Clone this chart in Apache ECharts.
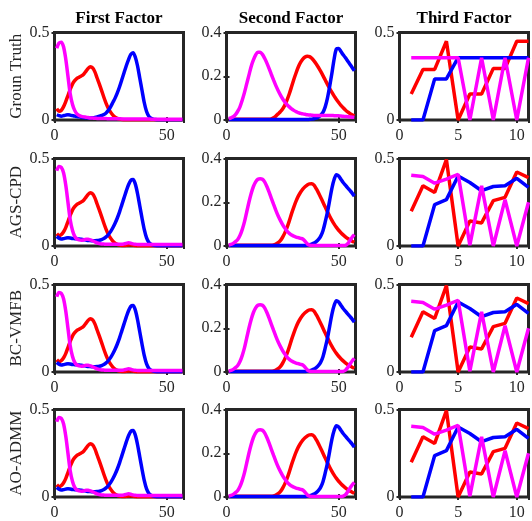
<!DOCTYPE html>
<html><head><meta charset="utf-8">
<script src="https://cdn.jsdelivr.net/npm/echarts@6/dist/echarts.min.js"></script>
<style>html,body{margin:0;padding:0;background:#fff}#c{width:532px;height:521px}</style>
</head><body><div id="c"></div>
<script>
// ---- labels ----
const colTitles = ['First Factor', 'Second Factor', 'Third Factor'];
const rowTitles = ['Groun Truth', 'AGS-CPD', 'BC-VMFB', 'AO-ADMM'];
const yMaxes = [0.5, 0.4, 0.5];
const yIntervals = [0.5, 0.2, 0.5];
const xMaxes = [57.5, 57.5, 11];
const xIntervals = [50, 50, 5];

// ---- First factor (x = 1..57) ----
const gtF1Red = [0.065,0.05,0.055,0.075,0.105,0.14,0.175,0.205,0.225,0.238,0.245,0.252,0.262,0.278,0.295,0.305,0.298,0.275,0.24,0.205,0.168,0.13,0.095,0.066,0.045,0.028,0.016,0.009,0.005,0.003,0.002,0.002,0.002,0.002,0.002,0.002,0.002,0.002,0.002,0.002,0.002,0.002,0.002,0.002,0.002,0.002,0.002,0.002,0.002,0.002,0.002,0.002,0.002,0.002,0.002,0.002,0.002];
const gtF1Blue = [0.03,0.025,0.022,0.025,0.028,0.03,0.028,0.025,0.022,0.02,0.018,0.016,0.014,0.013,0.012,0.012,0.013,0.015,0.018,0.022,0.026,0.031,0.04,0.055,0.075,0.1,0.125,0.155,0.19,0.23,0.27,0.31,0.345,0.375,0.385,0.36,0.31,0.24,0.17,0.1,0.05,0.022,0.01,0.005,0.003,0.002,0.002,0.002,0.002,0.002,0.002,0.002,0.002,0.002,0.002,0.002,0.002];
const gtF1Mag = [0.41,0.44,0.445,0.42,0.35,0.25,0.15,0.09,0.055,0.035,0.026,0.021,0.018,0.016,0.014,0.012,0.011,0.01,0.009,0.008,0.008,0.008,0.008,0.007,0.007,0.007,0.007,0.007,0.007,0.006,0.006,0.006,0.006,0.006,0.006,0.006,0.006,0.006,0.006,0.006,0.006,0.006,0.005,0.005,0.005,0.005,0.005,0.005,0.005,0.005,0.005,0.005,0.005,0.005,0.005,0.005,0.005];
const estF1Red = [0.07,0.06,0.065,0.08,0.105,0.14,0.175,0.205,0.225,0.238,0.245,0.252,0.262,0.278,0.295,0.305,0.298,0.275,0.24,0.205,0.168,0.13,0.095,0.066,0.045,0.028,0.016,0.009,0.005,0.003,0.003,0.004,0.006,0.007,0.005,0.003,0.002,0.002,0.002,0.002,0.002,0.002,0.002,0.002,0.002,0.002,0.002,0.002,0.002,0.002,0.002,0.002,0.002,0.002,0.002,0.002,0.002];
const estF1Blue = [0.055,0.045,0.04,0.042,0.045,0.047,0.046,0.043,0.042,0.041,0.04,0.038,0.036,0.034,0.032,0.031,0.03,0.03,0.031,0.033,0.037,0.043,0.052,0.065,0.082,0.104,0.13,0.16,0.195,0.235,0.275,0.315,0.35,0.375,0.38,0.355,0.3,0.23,0.16,0.095,0.048,0.022,0.01,0.005,0.003,0.002,0.002,0.002,0.002,0.002,0.002,0.002,0.002,0.002,0.002,0.002,0.002];
const estF1Mag = [0.43,0.455,0.45,0.42,0.35,0.25,0.15,0.09,0.055,0.04,0.035,0.033,0.035,0.038,0.038,0.035,0.03,0.024,0.018,0.014,0.012,0.011,0.01,0.01,0.01,0.01,0.01,0.01,0.01,0.01,0.012,0.015,0.018,0.016,0.012,0.01,0.009,0.008,0.008,0.008,0.008,0.008,0.008,0.008,0.008,0.008,0.008,0.008,0.008,0.008,0.008,0.008,0.008,0.008,0.008,0.008,0.008];

// ---- Second factor (x = 1..57) ----
const gtF2Red = [0.003,0.003,0.003,0.003,0.003,0.003,0.003,0.003,0.003,0.003,0.003,0.003,0.003,0.003,0.003,0.003,0.003,0.003,0.003,0.005,0.01,0.018,0.028,0.038,0.05,0.068,0.092,0.12,0.152,0.185,0.215,0.242,0.263,0.278,0.288,0.292,0.29,0.282,0.27,0.256,0.24,0.222,0.203,0.183,0.163,0.144,0.126,0.109,0.094,0.08,0.067,0.056,0.046,0.037,0.03,0.024,0.019];
const gtF2Blue = [0.002,0.002,0.002,0.002,0.002,0.002,0.002,0.002,0.002,0.002,0.002,0.002,0.002,0.002,0.002,0.002,0.002,0.002,0.002,0.002,0.002,0.002,0.002,0.002,0.002,0.002,0.002,0.002,0.002,0.002,0.002,0.002,0.002,0.002,0.002,0.002,0.003,0.004,0.006,0.009,0.014,0.022,0.035,0.06,0.1,0.155,0.215,0.28,0.325,0.327,0.313,0.298,0.285,0.27,0.255,0.24,0.225];
const gtF2Mag = [0.006,0.01,0.015,0.025,0.04,0.06,0.09,0.125,0.165,0.205,0.245,0.275,0.298,0.31,0.31,0.3,0.282,0.26,0.235,0.208,0.182,0.157,0.135,0.115,0.097,0.082,0.07,0.06,0.051,0.044,0.038,0.034,0.03,0.028,0.026,0.024,0.023,0.022,0.021,0.021,0.021,0.021,0.021,0.021,0.021,0.021,0.021,0.02,0.02,0.019,0.018,0.017,0.016,0.015,0.014,0.013,0.012];
const estF2Red = [0.003,0.003,0.003,0.003,0.003,0.003,0.003,0.003,0.003,0.003,0.003,0.003,0.003,0.003,0.003,0.003,0.003,0.003,0.003,0.003,0.005,0.009,0.015,0.025,0.04,0.06,0.085,0.115,0.148,0.178,0.205,0.228,0.246,0.26,0.271,0.279,0.284,0.285,0.278,0.262,0.243,0.222,0.2,0.178,0.156,0.136,0.117,0.1,0.085,0.072,0.061,0.051,0.042,0.034,0.028,0.022,0.017];
const estF2Blue = [0.002,0.002,0.002,0.002,0.002,0.002,0.002,0.002,0.002,0.002,0.002,0.002,0.002,0.002,0.002,0.002,0.002,0.002,0.002,0.002,0.002,0.002,0.002,0.002,0.002,0.002,0.002,0.002,0.002,0.002,0.002,0.002,0.002,0.002,0.002,0.004,0.006,0.009,0.013,0.02,0.03,0.045,0.07,0.11,0.155,0.21,0.265,0.305,0.326,0.32,0.305,0.29,0.278,0.266,0.254,0.242,0.228];
const agsF2Mag = [0.005,0.007,0.012,0.02,0.03,0.048,0.075,0.11,0.155,0.2,0.24,0.272,0.293,0.305,0.308,0.305,0.293,0.272,0.246,0.218,0.19,0.163,0.138,0.117,0.098,0.082,0.068,0.058,0.05,0.045,0.041,0.038,0.035,0.032,0.022,0.01,0.004,0.002,0.002,0.002,0.002,0.002,0.002,0.002,0.002,0.002,0.002,0.002,0.002,0.002,0.002,0.002,0.003,0.01,0.025,0.04,0.052];
const bcF2Mag = [0.005,0.007,0.012,0.02,0.03,0.048,0.075,0.11,0.155,0.2,0.24,0.272,0.293,0.305,0.308,0.305,0.293,0.272,0.246,0.218,0.19,0.163,0.138,0.117,0.098,0.082,0.068,0.058,0.05,0.045,0.041,0.038,0.035,0.032,0.022,0.01,0.004,0.002,0.002,0.002,0.002,0.002,0.002,0.002,0.002,0.002,0.002,0.002,0.002,0.002,0.002,0.003,0.008,0.02,0.035,0.05,0.062];
const aoF2Mag = [0.005,0.007,0.012,0.02,0.03,0.048,0.075,0.11,0.155,0.2,0.24,0.272,0.293,0.305,0.308,0.305,0.293,0.272,0.246,0.218,0.19,0.163,0.138,0.117,0.098,0.082,0.068,0.058,0.05,0.045,0.041,0.038,0.035,0.032,0.022,0.01,0.004,0.002,0.002,0.002,0.002,0.002,0.002,0.002,0.002,0.002,0.002,0.002,0.002,0.002,0.002,0.004,0.01,0.024,0.04,0.055,0.066];

// ---- Third factor (x = 1..11) ----
const gtF3Red = [0.149,0.289,0.289,0.45,0,0.149,0.149,0.295,0.295,0.45,0.45];
const gtF3Blue = [0,0,0.235,0.235,0.356,0.356,0.356,0.356,0.356,0.356,0.356];
const gtF3Mag = [0.356,0.356,0.356,0.356,0.356,0,0.356,0,0.356,0,0.356];
const estF3Red = [0.199,0.344,0.306,0.494,0,0.143,0.132,0.259,0.278,0.423,0.391];
const estF3Blue = [0,0,0.237,0.265,0.4,0.363,0.316,0.34,0.344,0.387,0.335];
const estF3Mag = [0.404,0.397,0.359,0.382,0.41,0.005,0.344,0,0.265,0,0.25];

const panels = [
  [[gtF1Red, gtF1Blue, gtF1Mag], [gtF2Red, gtF2Blue, gtF2Mag], [gtF3Red, gtF3Blue, gtF3Mag]],
  [[estF1Red, estF1Blue, estF1Mag], [estF2Red, estF2Blue, agsF2Mag], [estF3Red, estF3Blue, estF3Mag]],
  [[estF1Red, estF1Blue, estF1Mag], [estF2Red, estF2Blue, bcF2Mag], [estF3Red, estF3Blue, estF3Mag]],
  [[estF1Red, estF1Blue, estF1Mag], [estF2Red, estF2Blue, aoF2Mag], [estF3Red, estF3Blue, estF3Mag]]
];
const colors = ['#ff0000', '#0000ff', '#ff00ff'];

const colLeft = [54.5, 226.5, 399.5];
const colWidth = 129;
const rowTop = [32.5, 158.5, 284.5, 409.5];
const rowHeight = 87.5;
const FONT = '"Liberation Serif", "DejaVu Serif", serif';

const grid = [], xAxis = [], yAxis = [], series = [], graphic = [];
let gi = 0;
for (let r = 0; r < 4; r++) {
  for (let c = 0; c < 3; c++) {
    grid.push({left: colLeft[c], top: rowTop[r], width: colWidth, height: rowHeight,
      show: true, borderColor: '#262626', borderWidth: 3, backgroundColor: '#fff', z: 0});
    const fmtX = v => (Math.abs(v % xIntervals[c]) < 1e-9 ? String(v) : '');
    const fmtY = v => (Math.abs(v / yIntervals[c] - Math.round(v / yIntervals[c])) < 1e-9 ? String(+v.toFixed(2)) : '');
    xAxis.push({type: 'value', gridIndex: gi, min: 0, max: xMaxes[c], interval: xIntervals[c],
      axisLine: {show: false}, splitLine: {show: false},
      axisTick: {show: true, inside: true, length: 3, lineStyle: {color: '#262626', width: 2}},
      axisLabel: {formatter: fmtX, color: '#262626', fontFamily: FONT, fontSize: 16, margin: 8}});
    xAxis.push({type: 'value', gridIndex: gi, position: 'top', min: 0, max: xMaxes[c], interval: xIntervals[c],
      axisLine: {show: false}, splitLine: {show: false}, axisLabel: {show: false},
      axisTick: {show: true, inside: true, length: 3, lineStyle: {color: '#262626', width: 2}}});
    yAxis.push({type: 'value', gridIndex: gi, min: 0, max: yMaxes[c], interval: yIntervals[c],
      axisLine: {show: false}, splitLine: {show: false},
      axisTick: {show: true, inside: true, length: 3, lineStyle: {color: '#262626', width: 2}},
      axisLabel: {formatter: fmtY, color: '#262626', fontFamily: FONT, fontSize: 16, margin: 5}});
    yAxis.push({type: 'value', gridIndex: gi, position: 'right', min: 0, max: yMaxes[c], interval: yIntervals[c],
      axisLine: {show: false}, splitLine: {show: false}, axisLabel: {show: false},
      axisTick: {show: true, inside: true, length: 3, lineStyle: {color: '#262626', width: 2}}});
    panels[r][c].forEach((arr, k) => {
      series.push({type: 'line', xAxisIndex: gi * 2, yAxisIndex: gi * 2,
        data: arr.map((v, i) => [i + 1, v]), showSymbol: false, symbol: 'none',
        smooth: c < 2 ? 0.3 : false, clip: true, silent: true, animation: false,
        lineStyle: {color: colors[k], width: 3.5}, z: 2 + k});
    });
    gi++;
  }
}
colTitles.forEach((t, c) => graphic.push({type: 'text', x: colLeft[c] + colWidth / 2, y: 19,
  style: {text: t, font: 'bold 17px ' + FONT, fill: '#000', textAlign: 'center', textVerticalAlign: 'middle'}}));
rowTitles.forEach((t, r) => graphic.push({type: 'text', x: 17, y: rowTop[r] + rowHeight / 2, rotation: Math.PI / 2,
  style: {text: t, font: '17px ' + FONT, fill: '#262626', textAlign: 'center', textVerticalAlign: 'middle'}}));

const chart = echarts.init(document.getElementById('c'), null, {renderer: 'canvas'});
chart.setOption({animation: false, grid, xAxis, yAxis, series, graphic});
</script></body></html>
